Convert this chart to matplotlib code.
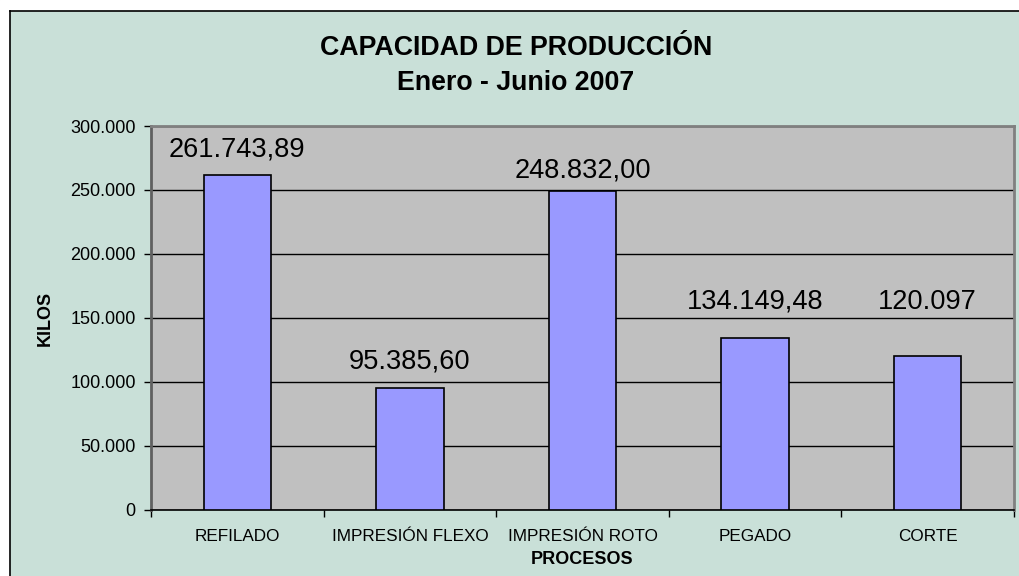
import matplotlib
matplotlib.use("Agg")
import matplotlib.pyplot as plt
from matplotlib.ticker import FuncFormatter, FixedLocator
from matplotlib.lines import Line2D
from matplotlib.patches import Rectangle

categories = ["REFILADO", "IMPRESIÓN FLEXO", "IMPRESIÓN ROTO", "PEGADO", "CORTE"]
values = [261743.89, 95385.60, 248832.00, 134149.48, 120097]
value_labels = ["261.743,89", "95.385,60", "248.832,00", "134.149,48", "120.097"]
label_offsets_pt = [18, 18.7, 15, 26.6, 39]  # label centre above bar top
y_ticks = [0, 50000, 100000, 150000, 200000, 250000, 300000]

plt.rcParams['font.family'] = ['Liberation Sans', 'DejaVu Sans']

bg = '#C9E0D8'
fig = plt.figure(figsize=(10.19, 5.76), dpi=100, facecolor=bg)
ax = fig.add_axes([151/1019, 66/576, (1014-151)/1019, (510-126)/576])
ax.set_facecolor('#C0C0C0')

x = list(range(len(categories)))
ax.bar(x, values, width=0.39, color='#9999FF', edgecolor='black', linewidth=1.2, zorder=3)

for xi, v, lab, off in zip(x, values, value_labels, label_offsets_pt):
    ax.annotate(lab, (xi, v), xytext=(0, off), textcoords='offset points',
                ha='center', va='center', fontsize=19.6, color='black', zorder=4)

ax.set_xlim(-0.5, len(categories) - 0.5)
ax.set_ylim(0, 300000)
ax.set_yticks(y_ticks)
ax.yaxis.set_major_formatter(FuncFormatter(lambda v, p: f"{int(v):,}".replace(",", ".")))
ax.grid(axis='y', color='black', linewidth=1.0, zorder=1)
ax.set_axisbelow(True)

ax.set_xticks(x)
ax.set_xticklabels(categories, fontsize=12.3)
ax.xaxis.set_minor_locator(FixedLocator([i - 0.5 for i in range(len(categories) + 1)]))
ax.tick_params(axis='x', which='major', length=0, pad=14)
ax.tick_params(axis='x', which='minor', length=5, width=1, color='black', direction='out')
ax.tick_params(axis='y', which='major', length=5, width=1, color='black', direction='out',
               labelsize=13, pad=6)

for s in ['top', 'right']:
    ax.spines[s].set_color('#808080')
    ax.spines[s].set_linewidth(2)
ax.spines['left'].set_color('#606060')
ax.spines['left'].set_linewidth(2)
ax.spines['bottom'].set_color('black')
ax.spines['bottom'].set_linewidth(1.2)

fig.text(45/1019, 1 - 318/576, "KILOS", rotation=90, ha='center', va='center',
         fontsize=13, fontweight='bold')
fig.text(582.5/1019, 1 - 560/576, "PROCESOS", ha='center', va='center',
         fontsize=13, fontweight='bold')
fig.text(516/1019, 1 - 48/576, "CAPACIDAD DE PRODUCCIÓN", ha='center', va='center',
         fontsize=19.3, fontweight='bold')
fig.text(516/1019, 1 - 83/576, "Enero - Junio 2007", ha='center', va='center',
         fontsize=19.3, fontweight='bold')

# outer chart frame (left and top edges visible)
fig.add_artist(Line2D([9.5/1019, 9.5/1019], [0, 1 - 10.5/576], transform=fig.transFigure,
                      color='black', linewidth=1.2))
fig.add_artist(Line2D([9.5/1019, 1], [1 - 10.5/576, 1 - 10.5/576], transform=fig.transFigure,
                      color='black', linewidth=1.2))
# white margin outside frame
fig.add_artist(Rectangle((0, 0), 9/1019, 1, transform=fig.transFigure, color='white', zorder=-1))
fig.add_artist(Rectangle((0, 1 - 10/576), 1, 10/576, transform=fig.transFigure, color='white', zorder=-1))

fig.savefig("out.png", dpi=100, facecolor=bg)
